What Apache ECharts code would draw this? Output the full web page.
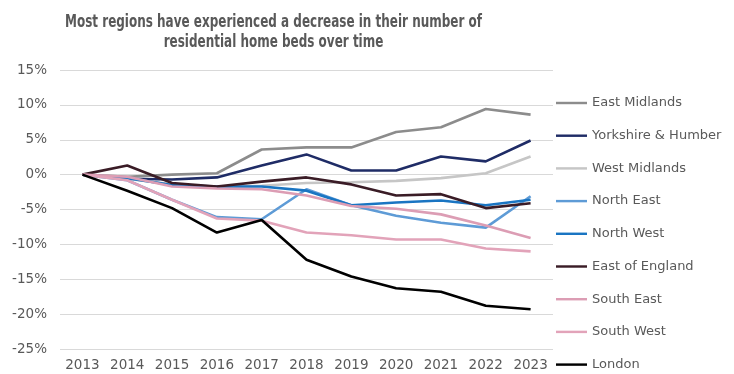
<!DOCTYPE html>
<html>
<head>
<meta charset="utf-8">
<script src="https://cdn.jsdelivr.net/npm/echarts@6/dist/echarts.min.js"></script>
<style>
  html, body { margin: 0; padding: 0; background: #ffffff; }
  #chart { width: 734px; height: 374px; }
</style>
</head>
<body>
<div id="chart"></div>
<script>
// Change in residential home beds by region, relative to 2013 (%)
const years = ['2013', '2014', '2015', '2016', '2017', '2018', '2019', '2020', '2021', '2022', '2023'];

const eastMidlands   = [0, -0.3, 0.0, 0.2, 3.6, 3.9, 3.9, 6.1, 6.8, 9.4, 8.6];
const yorkshire      = [0, -0.6, -0.7, -0.4, 1.3, 2.9, 0.6, 0.6, 2.6, 1.9, 4.9];
const westMidlands   = [0, -0.6, -1.4, -1.8, -1.6, -1.2, -1.1, -0.9, -0.5, 0.2, 2.6];
const northEast      = [0, -0.8, -3.6, -6.1, -6.4, -2.1, -4.4, -5.9, -6.9, -7.6, -3.1];
const northWest      = [0, -0.5, -1.5, -1.7, -1.7, -2.3, -4.4, -4.0, -3.7, -4.4, -3.6];
const eastOfEngland  = [0, 1.3, -1.2, -1.7, -1.0, -0.4, -1.4, -3.0, -2.8, -4.8, -4.1];
const southEast      = [0, -0.3, -1.7, -2.0, -2.1, -3.0, -4.5, -4.9, -5.7, -7.3, -9.1];
const southWest      = [0, -0.8, -3.6, -6.3, -6.6, -8.3, -8.7, -9.3, -9.3, -10.6, -11.0];
const london         = [0, -2.3, -4.8, -8.3, -6.5, -12.2, -14.6, -16.3, -16.8, -18.8, -19.3];

const yTicks = { min: -25, max: 15, step: 5 };

const titleLines = [
  'Most regions have experienced a decrease in their number of',
  'residential home beds over time'
];

const regions = [
  { name: 'East Midlands',      data: eastMidlands,  color: '#8c8c8c' },
  { name: 'Yorkshire & Humber', data: yorkshire,     color: '#1f2c66' },
  { name: 'West Midlands',      data: westMidlands,  color: '#c6c6c6' },
  { name: 'North East',         data: northEast,     color: '#5e9bd6' },
  { name: 'North West',         data: northWest,     color: '#1a75c2' },
  { name: 'East of England',    data: eastOfEngland, color: '#3a1c26' },
  { name: 'South East',         data: southEast,     color: '#dc9db4' },
  { name: 'South West',         data: southWest,     color: '#e2a3b9' },
  { name: 'London',             data: london,        color: '#000000' }
];

const textColor = '#595959';
const titleFont = 'bold 17px "DejaVu Sans", sans-serif';

// The heading is set in a condensed bold face: measure the first line and squeeze it horizontally.
const measureCtx = document.createElement('canvas').getContext('2d');
measureCtx.font = titleFont;
const titleScaleX = 417 / measureCtx.measureText(titleLines[0]).width;

const chart = echarts.init(document.getElementById('chart'), null, { renderer: 'canvas' });

chart.setOption({
  animation: false,
  backgroundColor: '#ffffff',
  graphic: titleLines.map((line, i) => ({
    type: 'text',
    x: 273.5,
    y: 22.5 + i * 19.6,
    scaleX: titleScaleX,
    silent: true,
    style: {
      text: line,
      font: titleFont,
      fill: textColor,
      align: 'center',
      verticalAlign: 'middle'
    }
  })),
  grid: { left: 60, right: 181, top: 70, bottom: 25, containLabel: false },
  legend: {
    orient: 'vertical',
    left: 556,
    top: 96.5,
    padding: 0,
    itemWidth: 31,
    itemHeight: 14,
    itemGap: 19.7,
    icon: 'path://M0,0 H33 V2.6 H0 Z',
    textStyle: { fontFamily: '"DejaVu Sans", sans-serif', fontSize: 13, color: textColor },
    data: regions.map(r => r.name)
  },
  xAxis: {
    type: 'category',
    data: years,
    boundaryGap: true,
    axisLine: { show: false },
    axisTick: { show: false },
    axisLabel: { margin: 9, fontFamily: '"DejaVu Sans", sans-serif', fontSize: 13.5, color: textColor }
  },
  yAxis: {
    type: 'value',
    min: yTicks.min,
    max: yTicks.max,
    interval: yTicks.step,
    axisLine: { show: false },
    axisTick: { show: false },
    splitLine: { lineStyle: { color: '#d9d9d9', width: 1 } },
    axisLabel: {
      margin: 13,
      fontFamily: '"DejaVu Sans", sans-serif',
      fontSize: 13.5,
      color: textColor,
      formatter: v => v + '%'
    }
  },
  series: regions.map(r => ({
    name: r.name,
    type: 'line',
    data: r.data,
    symbol: 'none',
    smooth: false,
    color: r.color,
    lineStyle: { color: r.color, width: 2.6 }
  }))
});
</script>
</body>
</html>
